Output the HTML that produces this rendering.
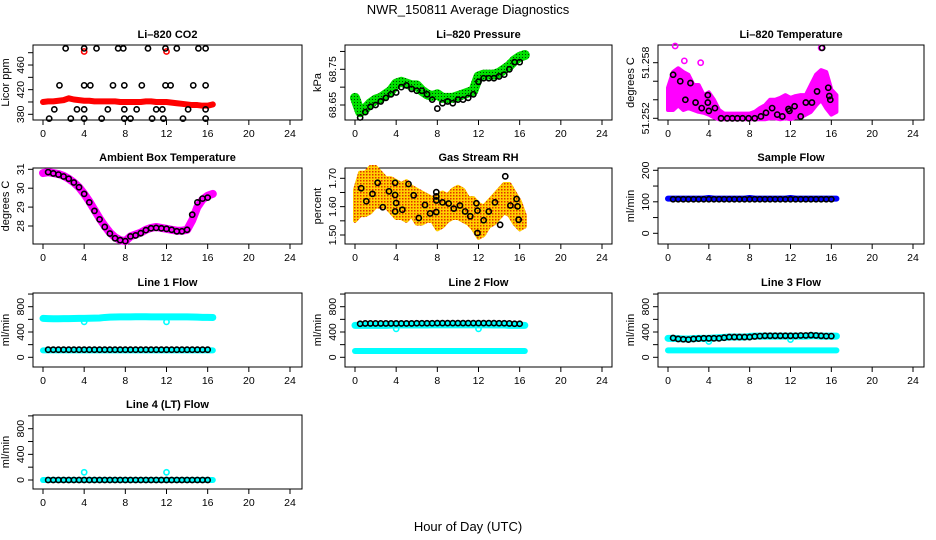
<!DOCTYPE html>
<html><head><meta charset="utf-8"><style>
html,body{margin:0;padding:0;background:#fff;}
svg{display:block;font-family:"Liberation Sans",sans-serif;}
</style></head><body>
<svg id="chart" width="936" height="540" viewBox="0 0 936 540">
<defs>
<pattern id="rhpat" width="3" height="3" patternUnits="userSpaceOnUse"><rect width="3" height="3" fill="#ffd000"/><rect width="1.5" height="1.5" fill="#e03000"/></pattern>
<pattern id="grpat" width="3" height="3" patternUnits="userSpaceOnUse"><rect width="3" height="3" fill="#00e000"/><rect width="1" height="1" fill="#004000"/></pattern>
</defs>
<text x="468" y="14" text-anchor="middle" font-size="13">NWR_150811  Average Diagnostics</text>
<text x="468" y="531" text-anchor="middle" font-size="13">Hour of Day (UTC)</text>
</svg>
<script>
const T = [0,0.5,1,1.5,2,2.5,3,3.5,4,4.5,5,5.5,6,6.5,7,7.5,8,8.5,9,9.5,10,10.5,11,11.5,12,12.5,13,13.5,14,14.5,15,15.5,16,16.5];
const TB = [0.5,1,1.5,2,2.5,3,3.5,4,4.5,5,5.5,6,6.5,7,7.5,8,8.5,9,9.5,10,10.5,11,11.5,12,12.5,13,13.5,14,14.5,15,15.5,16];
const xTicks = [0,4,8,12,16,20,24];

const co2Red = [400,401,401,402,403,406,404,403,402,402,401,401,401,401,401,400,400,400,400,400,401,401,400,400,400,399,398,397,396,395,395,394,394,396];
const co2OutT = [4,12];
const co2OutV = [482,482];
const co2BlkT = [2.2,4,5.2,7.3,7.8,10.2,11.9,13,15.1,15.8, 1.6,4,4.6,6.8,7.9,9.6,11.9,12.4,14.6,15.8, 1.1,3.3,4,6.3,7.9,9.1,11,11.6,14.1,15.8, 0.6,2.7,4,5.7,7.9,8.5,10.6,11.7,13.6,15.8];
const co2BlkV = [487,487,487,487,487,487,487,487,487,487, 427,427,427,427,427,427,427,427,427,427, 388,388,388,388,388,388,388,388,388,388, 373,373,373,373,373,373,373,373,373,373];

const presGreen = [68.67,68.63,68.64,68.655,68.665,68.67,68.68,68.69,68.71,68.715,68.71,68.705,68.705,68.69,68.68,68.675,68.68,68.67,68.67,68.67,68.675,68.68,68.685,68.69,68.73,68.735,68.735,68.735,68.74,68.75,68.76,68.775,68.785,68.79];
const presBlk = [68.615,68.63,68.645,68.65,68.66,68.67,68.68,68.685,68.70,68.705,68.695,68.69,68.69,68.68,68.665,68.64,68.655,68.66,68.655,68.665,68.665,68.67,68.68,68.715,68.725,68.725,68.725,68.73,68.735,68.75,68.77,68.77];

const tempLo = [51.2529,51.2529,51.2534,51.2529,51.2531,51.2529,51.2527,51.2526,51.2524,51.2521,51.2519,51.2519,51.2519,51.2519,51.2519,51.2519,51.2519,51.2519,51.2519,51.2519,51.2520,51.2520,51.2519,51.2520,51.2519,51.2521,51.2521,51.2524,51.2527,51.2534,51.2540,51.2531,51.2524,51.2527];
const tempHi = [51.2553,51.2570,51.2574,51.2570,51.2567,51.2556,51.2556,51.2545,51.2548,51.2540,51.2529,51.2525,51.2525,51.2525,51.2525,51.2525,51.2525,51.2527,51.2531,51.2534,51.2540,51.2540,51.2542,51.2545,51.2542,51.2544,51.2545,51.2545,51.2556,51.2567,51.2572,51.2570,51.2551,51.2545];
const tempOutT = [0.7,1.6,3.2,15];
const tempOutV = [51.2598,51.2582,51.2580,51.2596];
const tempBlkT = [0.5,1.2,1.7,2.2,2.7,3.3,3.9,3.9,4,4.6,5.2,5.8,6.3,6.8,7.3,7.9,8.5,9.1,9.6,10.2,10.7,11.2,11.8,11.9,12.4,13,13.5,14.1,14.6,15.1,15.7,15.8,15.9];
const tempBlkV = [51.2567,51.2560,51.2540,51.2558,51.2537,51.2531,51.2537,51.2545,51.2528,51.2531,51.2520,51.2520,51.2520,51.2520,51.2520,51.2520,51.2520,51.2522,51.2526,51.2531,51.2524,51.2522,51.2530,51.2528,51.2533,51.2522,51.2537,51.2537,51.2549,51.2596,51.2553,51.2544,51.2540];

const ambMag = [30.8,30.85,30.8,30.75,30.65,30.5,30.3,30.05,29.7,29.3,28.85,28.4,28.0,27.65,27.4,27.25,27.2,27.45,27.55,27.65,27.8,27.9,27.95,27.9,27.85,27.8,27.75,27.75,27.8,28.3,29.0,29.4,29.6,29.7];
const ambBlk = [30.85,30.78,30.72,30.62,30.5,30.3,30.05,29.7,29.25,28.8,28.35,27.95,27.6,27.35,27.25,27.2,27.45,27.5,27.62,27.78,27.88,27.9,27.88,27.85,27.8,27.72,27.72,27.8,28.6,29.25,29.45,29.5];

const rhLo = [1.55,1.57,1.57,1.58,1.60,1.60,1.60,1.58,1.56,1.56,1.55,1.57,1.54,1.54,1.55,1.55,1.52,1.53,1.55,1.56,1.56,1.55,1.54,1.52,1.49,1.50,1.53,1.54,1.56,1.58,1.57,1.54,1.52,1.53];
const rhHi = [1.66,1.72,1.72,1.74,1.74,1.72,1.70,1.70,1.69,1.68,1.69,1.67,1.66,1.65,1.64,1.63,1.64,1.65,1.64,1.66,1.67,1.66,1.63,1.63,1.61,1.60,1.62,1.64,1.66,1.68,1.68,1.65,1.62,1.57];
const rhBlkT = [0.6,1.1,1.7,2.2,2.7,3.3,3.9,3.9,4,3.9,4.6,5.2,5.7,6.2,6.8,7.3,7.9,7.9,7.9,7.9,8.5,9.1,9.6,10.2,10.7,11.2,11.8,11.9,11.9,12.5,13,13.6,14.1,14.6,15.1,15.7,15.8,15.9];
const rhBlkV = [1.665,1.619,1.645,1.684,1.598,1.654,1.684,1.641,1.613,1.583,1.589,1.680,1.640,1.560,1.606,1.576,1.581,1.651,1.636,1.622,1.615,1.611,1.593,1.604,1.583,1.566,1.612,1.507,1.586,1.552,1.583,1.615,1.536,1.707,1.604,1.627,1.601,1.554];

const sampBlue = [110,110,110,110,110,110,110,110,112,110,110,110,110,110,110,110,112,110,110,110,110,110,110,110,112,110,110,110,110,110,110,110,110,110];
const sampBlk = [108,108,108,108,108,108,108,108,108,108,108,108,108,108,108,108,108,108,108,108,108,108,108,108,108,108,108,108,108,108,108,108];

const l1CyanHi = [615,612,610,610,612,612,614,615,615,618,620,622,630,635,638,640,640,640,642,642,642,640,640,640,640,640,640,640,640,638,635,632,632,630];
const l1CyanLo = [110,110,110,110,110,110,110,110,110,110,110,110,110,110,110,110,110,110,110,110,110,110,110,110,110,110,110,110,110,110,110,110,110,110];
const l1OutT = [4,12];
const l1OutV = [560,560];
const l1Blk = [120,120,120,120,120,120,120,120,120,120,120,120,120,120,120,120,120,120,120,120,120,120,120,120,120,120,120,120,120,120,120,120];

const l2CyanHi = [505,505,505,505,505,505,505,508,510,510,510,510,510,510,510,512,512,512,512,512,512,512,512,512,512,512,512,510,510,510,505,505,505,505];
const l2CyanLo = [100,100,100,100,100,100,100,100,100,100,100,100,100,100,100,100,100,100,100,100,100,100,100,100,100,100,100,100,100,100,100,100,100,100];
const l2OutT = [4,12];
const l2OutV = [450,450];
const l2Blk = [530,535,535,535,535,535,535,535,535,535,535,538,538,538,538,540,540,540,540,540,540,540,540,540,540,540,540,538,538,535,530,530];

const l3CyanHi = [300,300,295,290,290,295,300,300,300,305,310,315,320,320,320,320,330,335,335,335,335,335,335,335,335,335,335,335,340,340,335,335,335,335];
const l3CyanLo = [110,110,110,110,110,110,110,110,110,110,110,110,110,110,110,110,110,110,110,110,110,110,110,110,110,110,110,110,110,110,110,110,110,110];
const l3OutT = [4,12];
const l3OutV = [250,280];
const l3Blk = [305,290,285,280,290,295,300,300,300,300,310,320,320,320,320,320,330,335,340,340,340,340,340,340,340,345,345,350,345,340,335,335];

const l4Cyan = [0,0,0,0,0,0,0,0,0,0,0,0,0,0,0,0,0,0,0,0,0,0,0,0,0,0,0,0,0,0,0,0,0,0];
const l4OutT = [4,12];
const l4OutV = [120,120];
const l4Blk = [0,0,0,0,0,0,0,0,0,0,0,0,0,0,0,0,0,0,0,0,0,0,0,0,0,0,0,0,0,0,0,0];

const NS = 'http://www.w3.org/2000/svg';
const svg = document.getElementById('chart');
function mk(tag, attrs, parent){const e=document.createElementNS(NS,tag);for(const k in attrs)e.setAttribute(k,attrs[k]);(parent||svg).appendChild(e);return e;}

const cols = [{l:33,r:302,x0:43,x24:290},{l:345,r:612,x0:355,x24:602},{l:658,r:924,x0:668,x24:913}];
const rows = [{t:45,b:120},{t:168,b:244},{t:293,b:367},{t:415,b:489}];

function panel(name, title, ylab, ci, ri, v0, y0, v1, y1, ticks, labels, fmt){
  const c=cols[ci], r=rows[ri];
  const g=mk('g',{});
  
  
  const X=t=>c.x0+(t/24)*(c.x24-c.x0);
  const Y=v=>y0+(v-v0)*(y1-y0)/(v1-v0);
  const tt=mk('text',{x:(c.l+c.r)/2,y:r.t-7,'text-anchor':'middle','font-size':11,'font-weight':'bold'},g);
  tt.textContent=title;
  
  
  const box=mk('rect',{x:c.l,y:r.t,width:c.r-c.l,height:r.b-r.t,fill:'none',stroke:'#000','stroke-width':1},g);
  
  
  const xa=mk('g',{},g);
  
  
  mk('line',{x1:X(0),x2:X(24),y1:r.b,y2:r.b,stroke:'#000'},xa);
  xTicks.forEach(t=>{
    mk('line',{x1:X(t),x2:X(t),y1:r.b,y2:r.b+5,stroke:'#000'},xa);
    const lt=mk('text',{x:X(t),y:r.b+17,'text-anchor':'middle','font-size':10.5},xa);
    lt.textContent=t;
    
    
  });
  const ya=mk('g',{},g);
  
  
  const ys=ticks.map(Y).filter(y=>y>=r.t-12&&y<=r.b+1);
  mk('line',{x1:c.l,x2:c.l,y1:Math.min(...ys),y2:Math.max(...ys),stroke:'#000'},ya);
  ticks.forEach(v=>{const y=Y(v); if(y<r.t-12||y>r.b+1)return; mk('line',{x1:c.l-5,x2:c.l,y1:y,y2:y,stroke:'#000'},ya);});
  labels.forEach(v=>{
    const y=Y(v);
    const lt=mk('text',{x:0,y:0,'text-anchor':'middle','font-size':10.5,transform:`translate(${c.l-9},${y}) rotate(-90)`},ya);
    lt.textContent=fmt(v);
    
    
  });
  const yl=mk('text',{x:0,y:0,'text-anchor':'middle','font-size':11,transform:`translate(${c.l-24},${(r.t+r.b)/2}) rotate(-90)`},g);
  yl.textContent=ylab;
  
  
  return {g,X,Y};
}
function band(p, ts, vs, color, w, name){
  const pl=mk('polyline',{points:ts.map((t,i)=>p.X(t)+','+p.Y(vs[i])).join(' '),fill:'none',stroke:color,'stroke-width':w,'stroke-linecap':'round','stroke-linejoin':'round'},p.g);
  
  
}
function cloud(p, ts, lo, hi, color, name){
  const pts=ts.map((t,i)=>p.X(t)+','+p.Y(hi[i])).concat(ts.map((t,i)=>p.X(t)+','+p.Y(lo[i])).reverse());
  const pg=mk('polygon',{points:pts.join(' '),fill:color,stroke:color,'stroke-width':4,'stroke-linejoin':'round'},p.g);
  
  
}
function pts(p, ts, vs, color, name, r){
  ts.forEach((t,i)=>{
    const c=mk('circle',{cx:p.X(t),cy:p.Y(vs[i]),r:r||2.6,fill:'none',stroke:color,'stroke-width':1.6},p.g);
    
    
  });
}
const f0=v=>String(v);

let p=panel('panel-co2','Li\u2013820 CO2','Licor ppm',0,0,380,114.3,480,52.7,[380,400,420,440,460,480],[380,420,460],f0);
band(p,T,co2Red,'#f00',6,'co2-series');
pts(p,co2OutT,co2OutV,'#f00','co2-outlier');
pts(p,co2BlkT,co2BlkV,'#000','co2-hourly-point');

p=panel('panel-pressure','Li\u2013820 Pressure','kPa',1,0,68.65,105,68.75,69.3,[68.65,68.70,68.75,68.80],[68.65,68.75],v=>v.toFixed(2).replace(/0$/,''));
band(p,T,presGreen,'url(#grpat)',10,'pressure-series');
pts(p,TB,presBlk,'#000','pressure-hourly-point');

p=panel('panel-licor-temp','Li\u2013820 Temperature','degrees C',2,0,51.252,118.3,51.258,62.7,[51.252,51.254,51.256,51.258],[51.252,51.258],v=>v.toFixed(3));
cloud(p,T,tempLo,tempHi,'#f0f','licor-temp-cloud');
pts(p,tempOutT,tempOutV,'#f0f','licor-temp-outlier');
pts(p,tempBlkT,tempBlkV,'#000','licor-temp-hourly-point');

p=panel('panel-ambient-temp','Ambient Box Temperature','degrees C',0,1,28,226,31,169.3,[28,29,30,31],[28,29,30,31],f0);
band(p,T,ambMag,'#f0f',8,'ambient-temp-series');
pts(p,TB,ambBlk,'#000','ambient-temp-hourly-point');

p=panel('panel-rh','Gas Stream RH','percent',1,1,1.50,235,1.70,178.3,[1.50,1.55,1.60,1.65,1.70],[1.50,1.60,1.70],v=>v.toFixed(2));
cloud(p,T,rhLo,rhHi,'url(#rhpat)','rh-cloud');
pts(p,rhBlkT,rhBlkV,'#000','rh-hourly-point');

p=panel('panel-sample-flow','Sample Flow','ml/min',2,1,0,233.3,200,170.3,[0,50,100,150,200],[0,100,200],f0);
band(p,T,sampBlue,'#00f',6,'sample-flow-series');
pts(p,TB,sampBlk,'#000','sample-flow-hourly-point');

p=panel('panel-line1-flow','Line 1 Flow','ml/min',0,2,0,357.3,800,306.7,[0,200,400,600,800,1000],[0,400,800],f0);
band(p,T,l1CyanHi,'#0ff',7,'line1-upper-series');
band(p,T,l1CyanLo,'#0ff',6,'line1-lower-series');
pts(p,l1OutT,l1OutV,'#0ff','line1-outlier');
pts(p,TB,l1Blk,'#000','line1-hourly-point');

p=panel('panel-line2-flow','Line 2 Flow','ml/min',1,2,0,357.3,800,306.7,[0,200,400,600,800,1000],[0,400,800],f0);
band(p,T,l2CyanHi,'#0ff',7,'line2-upper-series');
band(p,T,l2CyanLo,'#0ff',6,'line2-lower-series');
pts(p,l2OutT,l2OutV,'#0ff','line2-outlier');
pts(p,TB,l2Blk,'#000','line2-hourly-point');

p=panel('panel-line3-flow','Line 3 Flow','ml/min',2,2,0,357.3,800,306.7,[0,200,400,600,800,1000],[0,400,800],f0);
band(p,T,l3CyanHi,'#0ff',7,'line3-upper-series');
band(p,T,l3CyanLo,'#0ff',6,'line3-lower-series');
pts(p,l3OutT,l3OutV,'#0ff','line3-outlier');
pts(p,TB,l3Blk,'#000','line3-hourly-point');

p=panel('panel-line4-flow','Line 4 (LT) Flow','ml/min',0,3,0,480,800,428.7,[0,200,400,600,800,1000],[0,400,800],f0);
band(p,T,l4Cyan,'#0ff',6,'line4-series');
pts(p,l4OutT,l4OutV,'#0ff','line4-outlier');
pts(p,TB,l4Blk,'#000','line4-hourly-point');
</script>
</body></html>
